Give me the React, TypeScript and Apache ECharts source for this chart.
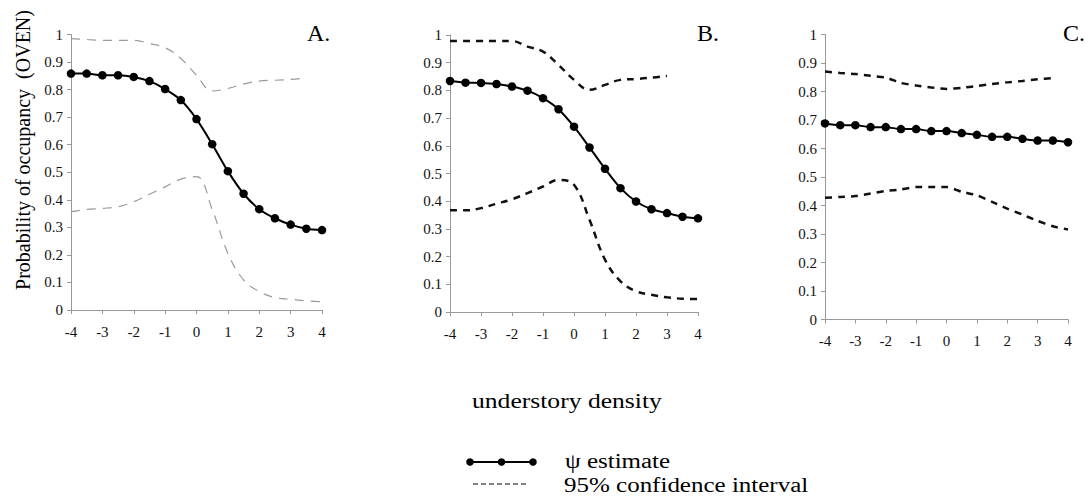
import React, { useEffect, useRef } from "react";
import * as echarts from "echarts";

const xValues = [-4, -3.5, -3, -2.5, -2, -1.5, -1, -0.5, 0, 0.5, 1, 1.5, 2, 2.5, 3, 3.5, 4];

// Panel A
const estA = [0.858, 0.858, 0.852, 0.852, 0.846, 0.831, 0.802, 0.762, 0.693, 0.602, 0.504, 0.422, 0.366, 0.333, 0.31, 0.295, 0.29];
const upA = [0.985, 0.982, 0.979, 0.979, 0.979, 0.967, 0.952, 0.913, 0.852, 0.795, 0.804, 0.82, 0.831, 0.834, 0.837, 0.842];
const loA = [0.357, 0.365, 0.369, 0.375, 0.393, 0.42, 0.447, 0.475, 0.484, 0.365, 0.206, 0.109, 0.067, 0.045, 0.039, 0.033, 0.03];

// Panel B
const estB = [0.834, 0.828, 0.827, 0.823, 0.814, 0.799, 0.772, 0.732, 0.669, 0.594, 0.517, 0.447, 0.399, 0.371, 0.357, 0.344, 0.338];
const upB = [0.978, 0.978, 0.978, 0.978, 0.978, 0.958, 0.94, 0.892, 0.838, 0.802, 0.82, 0.838, 0.841, 0.846, 0.852];
const loB = [0.367, 0.367, 0.375, 0.391, 0.407, 0.429, 0.453, 0.477, 0.459, 0.333, 0.189, 0.111, 0.075, 0.062, 0.053, 0.048, 0.047];

// Panel C
const estC = [0.688, 0.682, 0.682, 0.675, 0.675, 0.668, 0.668, 0.661, 0.661, 0.654, 0.648, 0.641, 0.641, 0.634, 0.628, 0.628, 0.622];
const upC = [0.87, 0.865, 0.861, 0.855, 0.849, 0.83, 0.821, 0.814, 0.809, 0.813, 0.819, 0.826, 0.832, 0.837, 0.843, 0.847];
const loC = [0.427, 0.43, 0.433, 0.442, 0.451, 0.456, 0.465, 0.465, 0.465, 0.448, 0.436, 0.413, 0.389, 0.368, 0.346, 0.327, 0.316];

const panelLabels = ["A.", "B.", "C."];
const yTitle = "Probability of occupancy  (OVEN)";
const xTitle = "understory density";
const legendEstimate = "\u03c8 estimate";
const legendCI = "95% confidence interval";

const FONT = "Liberation Serif";

const pairs = (vals: number[]) => vals.map((v, i) => [xValues[i], v]);

export default function App() {
  const ref = useRef<HTMLDivElement>(null);
  useEffect(() => {
    if (!ref.current) return;
    const chart = echarts.init(ref.current, undefined, { renderer: "svg" });
    const grids = [
      { left: 71, top: 34.5, width: 251, height: 275.5 },
      { left: 450, top: 35, width: 248, height: 277 },
      { left: 825, top: 34.5, width: 243, height: 285 },
    ];
    const axisLine = { lineStyle: { color: "#999", width: 1 } };
    const xAxes = grids.map((_, i) => ({
      type: "value",
      gridIndex: i,
      min: -4,
      max: 4,
      interval: 1,
      axisLine: { show: true, onZero: false, ...axisLine },
      axisTick: { show: true, length: 4, lineStyle: { color: "#999" } },
      splitLine: { show: false },
      axisLabel: { fontFamily: FONT, fontSize: 15, color: "#111", margin: 14 },
    }));
    const yAxes = grids.map((_, i) => ({
      type: "value",
      gridIndex: i,
      min: 0,
      max: 1,
      interval: 0.1,
      axisLine: { show: true, onZero: false, ...axisLine },
      axisTick: { show: true, length: 4, lineStyle: { color: "#999" } },
      splitLine: { show: false },
      axisLabel: { fontFamily: FONT, fontSize: 15, color: "#111", margin: 8 },
    }));
    const est = [estA, estB, estC];
    const up = [upA, upB, upC];
    const lo = [loA, loB, loC];
    const series: any[] = [];
    for (let i = 0; i < 3; i++) {
      const ciStyle =
        i === 0
          ? { color: "#9a9a9a", width: 1.2, type: [9, 7] }
          : { color: "#111", width: 2.5, type: [7, 6] };
      series.push({
        type: "line",
        xAxisIndex: i,
        yAxisIndex: i,
        data: pairs(up[i]),
        smooth: i === 2 ? 0.2 : 0.4,
        showSymbol: false,
        lineStyle: ciStyle,
      });
      series.push({
        type: "line",
        xAxisIndex: i,
        yAxisIndex: i,
        data: pairs(lo[i]),
        smooth: i === 2 ? 0.2 : 0.4,
        showSymbol: false,
        lineStyle: ciStyle,
      });
      series.push({
        type: "line",
        xAxisIndex: i,
        yAxisIndex: i,
        data: pairs(est[i]),
        smooth: 0.3,
        symbol: "circle",
        symbolSize: 8.5,
        itemStyle: { color: "#000" },
        lineStyle: { color: "#000", width: 2 },
      });
    }
    const labelPos = [
      [307, 33],
      [697, 33],
      [1063, 33],
    ];
    const txt = (text: string, size: number, extra: any = {}) => ({
      text,
      fontFamily: FONT,
      fontSize: size,
      fill: "#000",
      align: "left",
      verticalAlign: "middle",
      ...extra,
    });
    const graphic: any[] = panelLabels.map((t, i) => ({
      type: "text",
      x: labelPos[i][0],
      y: labelPos[i][1],
      style: txt(t, 24),
    }));
    graphic.push({
      type: "text",
      x: 23,
      y: 150,
      rotation: Math.PI / 2,
      style: txt(yTitle, 20, { align: "center" }),
    });
    graphic.push({ type: "text", x: 472, y: 401, scaleX: 1.22, style: txt(xTitle, 21) });
    graphic.push({
      type: "line",
      shape: { x1: 470, y1: 462, x2: 533, y2: 462 },
      style: { stroke: "#000", lineWidth: 2 },
    });
    [470, 501.5, 533].forEach((cx) =>
      graphic.push({ type: "circle", shape: { cx, cy: 462, r: 3.8 }, style: { fill: "#000" } })
    );
    graphic.push({ type: "text", x: 565, y: 461.5, scaleX: 1.25, style: txt(legendEstimate, 20) });
    graphic.push({
      type: "line",
      shape: { x1: 473, y1: 484, x2: 529, y2: 484 },
      style: { stroke: "#000", lineWidth: 1, lineDash: [5, 3] },
    });
    graphic.push({ type: "text", x: 564, y: 485.5, scaleX: 1.25, style: txt(legendCI, 20) });
    chart.setOption({
      animation: false,
      backgroundColor: "#fff",
      grid: grids,
      xAxis: xAxes,
      yAxis: yAxes,
      series,
      graphic,
    });
    return () => chart.dispose();
  }, []);
  return (
    <div
      ref={ref}
      style={{ position: "absolute", left: 0, top: 0, width: 1090, height: 504, background: "#fff" }}
    />
  );
}
